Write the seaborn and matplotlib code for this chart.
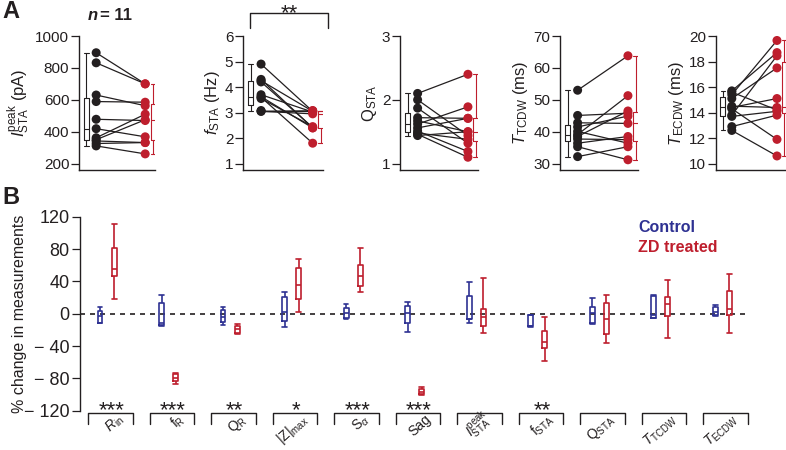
import matplotlib
matplotlib.use("Agg")
import matplotlib.pyplot as plt
import pandas as pd
import seaborn as sns

# ---- panel A: paired cells (same order in control and ZD lists)
ipeak_ctrl = [895, 832, 630, 589, 478, 419, 362, 350, 342, 326, 311]
ipeak_zd = [700, 700, 563, 585, 470, 368, 510, 475, 332, 332, 261]

fsta_ctrl = [4.9, 4.3, 4.25, 4.2, 3.7, 3.62, 3.6, 3.55, 3.08, 3.05, 3.05]
fsta_zd = [3.05, 2.4, 3.05, 2.42, 3.02, 2.4, 1.8, 2.45, 3.08, 2.95, 3.07]

qsta_ctrl = [2.1, 2.0, 1.87, 1.72, 1.67, 1.62, 1.56, 1.51, 1.48, 1.46, 1.44]
qsta_zd = [2.4, 1.44, 1.32, 1.71, 1.5, 1.89, 1.71, 1.19, 1.38, 1.1, 1.5]

tcdw_ctrl = [53.0, 45.1, 42.8, 41.5, 40.1, 39.1, 38.5, 37.7, 36.4, 35.3, 32.2]
tcdw_zd = [63.8, 45.8, 42.6, 44.9, 36.4, 51.3, 46.5, 37.5, 38.5, 31.2, 35.3]

ecdw_ctrl = [15.7, 15.6, 15.4, 15.1, 14.5, 14.4, 14.3, 13.8, 13.7, 12.9, 12.6]
ecdw_zd = [18.7, 14.2, 19.65, 17.5, 14.4, 15.1, 11.9, 18.45, 14.1, 13.8, 10.6]

a_ylabels = [r"$I^{\mathrm{peak}}_{\mathrm{STA}}$ (pA)", r"$f_{\mathrm{STA}}$ (Hz)",
             r"$\mathrm{Q}_{\mathrm{STA}}$", r"$T_{\mathrm{TCDW}}$ (ms)", r"$T_{\mathrm{ECDW}}$ (ms)"]
a_ticks = [[200, 400, 600, 800, 1000], [1, 2, 3, 4, 5, 6], [1, 2, 3],
           [30, 40, 50, 60, 70], [10, 12, 14, 16, 18, 20]]

# ---- panel B: % change, five-number summaries (min, q1, median, q3, max)
b_measures = [r"$R_{\mathrm{in}}$", r"$\mathrm{f}_{\mathrm{R}}$", r"$\mathrm{Q}_{\mathrm{R}}$",
              r"$\mathrm{|Z|}_{\mathrm{max}}$", r"$\mathrm{S}_{\alpha}$", "Sag",
              r"$I^{\mathrm{peak}}_{\mathrm{STA}}$", r"$\mathrm{f}_{\mathrm{STA}}$",
              r"$\mathrm{Q}_{\mathrm{STA}}$", r"$T_{\mathrm{TCDW}}$", r"$T_{\mathrm{ECDW}}$"]
b_ctrl = [[-12, -11, -3, 3.3, 7.8], [-15, -14, -12, 12.8, 23], [-14, -10, -3.7, 4.5, 7.8],
          [-16, -8.7, 2, 21, 27.2], [-6.6, -5.8, 0.4, 7.4, 11.5], [-22.3, -11.1, 0.4, 9.5, 14.8],
          [-12, -7, -6.6, 22.3, 39.6], [-16.5, -15.8, -15, -1.7, -1.2], [-12.8, -12, 1.2, 7.8, 19.8],
          [-5.8, -5, -1.7, 22.3, 23], [-2.9, -1.7, 2.5, 8.6, 10.7]]
b_zd = [[17.7, 46.6, 55.3, 81.6, 110.5], [-86.6, -83, -79, -75, -73], [-25.2, -23.5, -19.4, -15, -12.8],
        [1.6, 17.7, 35.5, 56.9, 67.2], [27.2, 34.2, 47, 60.2, 80.8], [-100.6, -99, -97, -93.6, -91],
        [-23.5, -15.3, -3.7, 5.8, 43.7], [-58.6, -42.9, -35.5, -21.5, -3.7], [-36.7, -25.2, -6.6, 13.6, 23],
        [-30.5, -2.9, 12, 20.2, 41.6], [-24.3, -1.7, 5.8, 28.4, 49]]
b_stars = ["***", "***", "**", "*", "***", "***", "", "**", "", "", ""]
b_ticks = [-120, -80, -40, 0, 40, 80, 120]

DARK = "#231f20"
RED = "#be1e2d"
BLUE = "#2e3192"

sns.set_theme(style="ticks")
plt.rcParams["font.family"] = ["Liberation Sans", "DejaVu Sans"]
plt.rcParams.update({
    "mathtext.fontset": "custom",
    "mathtext.rm": "Liberation Sans",
    "mathtext.it": "Liberation Sans:italic",
    "mathtext.bf": "Liberation Sans:bold",
    "axes.edgecolor": DARK,
    "axes.linewidth": 1.0,
    "xtick.color": DARK,
    "ytick.color": DARK,
    "text.color": DARK,
    "axes.labelcolor": DARK,
})

W, H = 786, 450
fig = plt.figure(figsize=(W / 100, H / 100), dpi=100)


def add_ax(left, top, width, height):
    return fig.add_axes([left / W, 1 - (top + height) / H, width / W, height / H])


# ---------------- panel A
a_ctrl = [ipeak_ctrl, fsta_ctrl, qsta_ctrl, tcdw_ctrl, ecdw_ctrl]
a_zd = [ipeak_zd, fsta_zd, qsta_zd, tcdw_zd, ecdw_zd]
a_left = [79, 243, 400, 560, 716]
a_width = [76, 80, 78, 78, 70]
pal = {"Control": DARK, "ZD": RED}
a_axes = []

for i in range(5):
    n = len(a_ctrl[i])
    df = pd.DataFrame({
        "cell": list(range(n)) * 2,
        "cond": ["Control"] * n + ["ZD"] * n,
        "val": list(a_ctrl[i]) + list(a_zd[i]),
    })
    df["x"] = df["cond"].map({"Control": 0, "ZD": 1})
    df["bx"] = df["cond"].map({"Control": -0.2, "ZD": 1.16})

    ax = add_ax(a_left[i], 36, a_width[i], 134)
    sns.lineplot(data=df, x="x", y="val", units="cell", estimator=None,
                 color=DARK, linewidth=0.9, ax=ax, legend=False)
    sns.scatterplot(data=df, x="x", y="val", hue="cond", palette=pal, s=42,
                    linewidth=0, ax=ax, legend=False, zorder=3)
    sns.boxplot(data=df, x="bx", y="val", hue="cond", palette=pal, native_scale=True,
                fill=False, whis=(0, 100), width=0.075, linewidth=0.8, showfliers=False,
                capwidths=0.1, ax=ax, legend=False)

    lo, hi = a_ticks[i][0], a_ticks[i][-1]
    ax.set_ylim(lo - 0.05 * (hi - lo), hi)
    ax.set_xlim(-0.35, 1.2)
    ax.set_yticks(a_ticks[i])
    ax.set_xticks([])
    ax.set_xlabel("")
    ax.set_ylabel(a_ylabels[i], fontsize=12, labelpad=2)
    ax.tick_params(axis="y", direction="out", length=5.5, width=0.9, labelsize=11, pad=1.5)
    sns.despine(ax=ax)
    a_axes.append(ax)

# significance bracket over f_STA
ax2 = a_axes[1]
ax2.plot([0.09, 0.09, 1.06, 1.06], [1.06, 1.17, 1.17, 1.06], transform=ax2.transAxes,
         color=DARK, lw=1.0, clip_on=False)
ax2.text(0.58, 1.127, "**", transform=ax2.transAxes, ha="center", va="baseline", fontsize=16)

fig.text(88 / W, 1 - 15 / H, "n", style="italic", weight="bold", fontsize=12, va="center")
fig.text(100 / W, 1 - 15 / H, "= 11", weight="bold", fontsize=12, va="center")
fig.text(2 / W, 1 - 12 / H, "A", weight="bold", fontsize=17, va="center")
fig.text(2 / W, 1 - 197 / H, "B", weight="bold", fontsize=17, va="center")

# ---------------- panel B
rows = []
for m, c, z in zip(b_measures, b_ctrl, b_zd):
    rows += [(m, "Control", v) for v in c]
    rows += [(m, "ZD treated", v) for v in z]
dfb = pd.DataFrame(rows, columns=["measure", "group", "change"])

axb = add_ax(80, 216.7, 668, 194)
axb.axhline(0, color=DARK, lw=1.2, ls=(0, (3, 3)), zorder=0)
sns.boxplot(data=dfb, x="measure", y="change", hue="group", palette=[BLUE, RED],
            fill=False, whis=(0, 100), width=0.46, gap=0.65, linewidth=1.2,
            showfliers=False, capwidths=0.08, ax=axb, legend=False)
axb.set_xlim(-0.44, len(b_measures) - 1 + 0.42)
axb.set_ylim(-120, 120)
axb.set_yticks(b_ticks)
axb.set_yticklabels([f"\u2212 {-t}" if t < 0 else str(t) for t in b_ticks])
axb.set_xticks([])
axb.set_xlabel("")
axb.set_ylabel("% change in measurements", fontsize=11.5)
axb.yaxis.set_label_coords(-0.079, 0.5)
axb.tick_params(axis="y", direction="out", length=6, width=0.9, labelsize=13, pad=1.5)
sns.despine(ax=axb, bottom=True)

tr = axb.get_xaxis_transform()
for i, (m, s) in enumerate(zip(b_measures, b_stars)):
    axb.plot([i - 0.31, i - 0.31, i + 0.42, i + 0.42], [-0.069, -0.012, -0.012, -0.069],
             transform=tr, color=DARK, lw=1.0, clip_on=False)
    axb.text(i + 0.27, -0.048, m, transform=tr, rotation=42, rotation_mode="anchor",
             ha="right", va="baseline", fontsize=10)
    if s:
        axb.text(i + 0.07, -0.03, s, transform=tr, ha="center", va="baseline", fontsize=16)

fig.text(638 / W, 1 - 227 / H, "Control", color=BLUE, weight="bold", fontsize=11.5, va="center")
fig.text(638 / W, 1 - 247 / H, "ZD treated", color=RED, weight="bold", fontsize=11.5, va="center")

fig.savefig("out.png", dpi=100)
